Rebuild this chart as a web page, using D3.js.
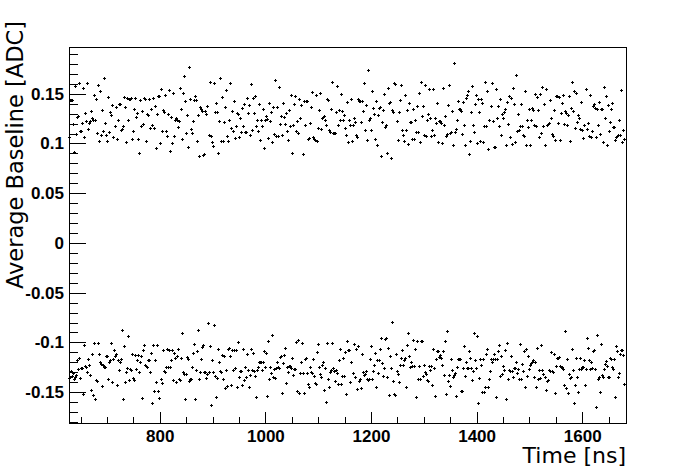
<!DOCTYPE html>
<html>
<head>
<meta charset="utf-8">
<script src="https://cdn.jsdelivr.net/npm/d3@7"></script>
<style>
  body { margin: 0; background: #fff; }
</style>
</head>
<body>
<svg id="chart" width="696" height="472"></svg>
<script>
// axis ticks
var xMajorTicks = [800, 1000, 1200, 1400, 1600];
var yMajorTicks = [-0.15, -0.1, -0.05, 0, 0.05, 0.1, 0.15];

// sampling window of the baseline readings [ns]
var firstTime = 629, lastTime = 1680;

// average baseline, upper band [ADC], in time order
var upperBaseline = [
  0.106,0.143,0.143,0.143,0.119,0.091,0.157,0.109,0.126,0.127,0.160,0.112,0.112,0.120,0.155,0.106,0.130,0.122,0.160,0.114,0.120,0.122,0.132,0.125,0.123,0.148,0.123,0.144,0.110,0.158,0.102,0.152,0.108,0.133,0.112,0.165,0.120,0.108,0.102,0.146,0.111,0.131,0.128,0.138,0.106,0.117,0.136,0.104,0.123,0.139,0.139,0.113,0.114,0.117,0.146,0.136,0.101,0.145,0.123,0.144,0.144,0.145,0.104,0.112,0.134,0.145,0.126,0.130,0.104,0.090,0.143,0.117,0.132,0.119,0.145,0.144,0.102,0.129,0.128,0.144,0.115,0.134,0.118,0.145,0.115,0.137,0.095,0.129,0.147,0.147,0.100,0.154,0.112,0.133,0.131,0.148,0.112,0.107,0.129,0.153,0.092,0.126,0.100,0.150,0.107,0.123,0.125,0.123,0.116,0.122,0.155,0.134,0.104,0.150,0.167,0.142,0.110,0.128,0.096,0.176,0.144,0.114,0.110,0.122,0.143,0.147,0.143,0.102,0.128,0.087,0.136,0.134,0.132,0.088,
  0.089,0.132,0.129,0.137,0.108,0.161,0.107,0.101,0.097,0.160,0.131,0.140,0.131,0.090,0.122,0.165,0.102,0.146,0.102,0.121,0.136,0.153,0.107,0.102,0.123,0.160,0.115,0.132,0.112,0.142,0.105,0.117,0.130,0.129,0.106,0.125,0.111,0.135,0.117,0.139,0.111,0.111,0.145,0.130,0.138,0.108,0.159,0.113,0.145,0.130,0.147,0.117,0.123,0.112,0.139,0.103,0.123,0.117,0.134,0.095,0.123,0.127,0.124,0.105,0.140,0.122,0.131,0.101,0.136,0.109,0.163,0.107,0.136,0.107,0.156,0.119,0.127,0.108,0.140,0.126,0.119,0.130,0.112,0.103,0.133,0.117,0.148,0.090,0.118,0.139,0.147,0.112,0.122,0.110,0.144,0.125,0.138,0.089,0.142,0.118,0.142,0.142,0.104,0.105,0.120,0.136,0.151,0.106,0.104,0.103,0.148,0.102,0.115,0.133,0.150,0.114,0.125,0.126,0.127,0.123,0.118,0.144,0.143,0.113,0.111,0.134,0.161,0.110,0.110,0.110,0.131,0.157,0.118,0.133,0.123,
  0.149,0.132,0.123,0.128,0.115,0.108,0.141,0.101,0.123,0.118,0.144,0.102,0.118,0.125,0.121,0.108,0.106,0.144,0.142,0.142,0.121,0.142,0.132,0.160,0.113,0.138,0.103,0.173,0.123,0.125,0.113,0.152,0.135,0.129,0.104,0.142,0.098,0.128,0.135,0.136,0.087,0.121,0.133,0.149,0.116,0.118,0.090,0.155,0.140,0.141,0.085,0.133,0.131,0.160,0.159,0.122,0.103,0.131,0.143,0.158,0.113,0.108,0.102,0.148,0.113,0.133,0.099,0.140,0.121,0.121,0.104,0.134,0.104,0.123,0.111,0.137,0.111,0.150,0.101,0.161,0.127,0.137,0.108,0.158,0.107,0.123,0.129,0.154,0.125,0.107,0.113,0.154,0.108,0.125,0.120,0.140,0.101,0.122,0.122,0.120,0.100,0.155,0.118,0.127,0.107,0.109,0.138,0.158,0.110,0.111,0.132,0.098,0.180,0.111,0.114,0.123,0.142,0.134,0.134,0.132,0.109,0.141,0.118,0.098,0.145,0.148,0.152,0.089,0.102,0.131,0.157,0.118,0.111,0.139,0.148,0.100,0.144,0.131,0.102,
  0.144,0.140,0.101,0.117,0.161,0.117,0.152,0.094,0.123,0.137,0.160,0.122,0.096,0.096,0.154,0.125,0.137,0.117,0.144,0.108,0.129,0.125,0.131,0.134,0.098,0.141,0.119,0.147,0.106,0.145,0.099,0.155,0.139,0.101,0.168,0.112,0.129,0.113,0.117,0.139,0.117,0.108,0.107,0.152,0.098,0.123,0.116,0.134,0.098,0.123,0.135,0.133,0.118,0.149,0.117,0.146,0.133,0.106,0.149,0.110,0.156,0.117,0.139,0.098,0.154,0.118,0.119,0.120,0.143,0.125,0.109,0.107,0.133,0.103,0.147,0.147,0.120,0.146,0.103,0.130,0.140,0.148,0.119,0.132,0.130,0.118,0.128,0.147,0.102,0.135,0.161,0.132,0.152,0.115,0.150,0.121,0.128,0.125,0.114,0.141,0.113,0.105,0.118,0.154,0.114,0.120,0.107,0.148,0.106,0.112,0.137,0.139,0.135,0.106,0.134,0.118,0.141,0.109,0.134,0.134,0.101,0.156,0.125,0.147,0.098,0.138,0.112,0.121,0.134,0.140,0.116,0.116,0.103,0.106,0.107,0.108,0.123,0.108,0.153,0.101,0.113,0.104
];

// average baseline, lower band [ADC], in time order
var lowerBaseline = [
  -0.136,-0.135,-0.129,-0.134,-0.131,-0.137,-0.135,-0.133,-0.118,-0.127,-0.116,-0.136,-0.126,-0.126,-0.152,-0.103,-0.124,-0.125,-0.130,-0.117,-0.123,-0.133,-0.148,-0.112,-0.153,-0.101,-0.157,-0.138,-0.139,-0.101,-0.112,-0.120,-0.122,-0.144,-0.123,-0.125,-0.125,-0.114,-0.114,-0.137,-0.120,-0.118,-0.101,-0.140,-0.117,-0.108,-0.114,-0.112,-0.143,-0.118,-0.128,-0.120,-0.117,-0.088,-0.157,-0.104,-0.140,-0.130,-0.126,-0.094,-0.138,-0.127,-0.128,-0.112,-0.136,-0.138,-0.113,-0.127,-0.118,-0.113,-0.130,-0.120,-0.114,-0.156,-0.108,-0.103,-0.123,-0.124,-0.125,-0.118,-0.118,-0.130,-0.111,-0.161,-0.103,-0.149,-0.118,-0.140,-0.103,-0.149,-0.156,-0.137,-0.141,-0.108,-0.129,-0.130,-0.125,-0.107,-0.125,-0.108,-0.125,-0.118,-0.108,-0.138,-0.111,-0.116,-0.140,-0.114,-0.107,-0.137,-0.138,-0.116,-0.091,-0.130,-0.132,-0.157,-0.132,-0.115,-0.117,-0.139,-0.137,-0.137,-0.125,-0.111,-0.102,-0.157,-0.128,-0.109,-0.088,-0.137,-0.130,-0.117,-0.105,-0.103,-0.130,
  -0.130,-0.136,-0.132,-0.081,-0.130,-0.104,-0.163,-0.118,-0.130,-0.083,-0.134,-0.155,-0.136,-0.107,-0.120,-0.129,-0.130,-0.113,-0.137,-0.114,-0.146,-0.128,-0.144,-0.107,-0.106,-0.114,-0.143,-0.108,-0.128,-0.108,-0.126,-0.108,-0.145,-0.100,-0.135,-0.129,-0.129,-0.143,-0.107,-0.138,-0.125,-0.135,-0.112,-0.128,-0.145,-0.133,-0.107,-0.128,-0.111,-0.129,-0.134,-0.155,-0.128,-0.125,-0.120,-0.120,-0.120,-0.128,-0.120,-0.109,-0.125,-0.111,-0.154,-0.099,-0.137,-0.125,-0.131,-0.093,-0.135,-0.127,-0.136,-0.126,-0.120,-0.125,-0.126,-0.115,-0.114,-0.151,-0.121,-0.113,-0.106,-0.141,-0.125,-0.130,-0.124,-0.124,-0.126,-0.116,-0.133,-0.127,-0.127,-0.100,-0.149,-0.098,-0.151,-0.131,-0.120,-0.101,-0.131,-0.151,-0.117,-0.116,-0.131,-0.142,-0.145,-0.125,-0.130,-0.131,-0.117,-0.134,-0.141,-0.142,-0.110,-0.102,-0.125,-0.132,-0.135,-0.123,-0.120,-0.148,-0.126,-0.160,-0.101,-0.137,-0.145,-0.130,-0.128,-0.101,-0.126,-0.129,-0.139,-0.128,-0.131,-0.142,-0.118,-0.107,-0.142,-0.134,
  -0.116,-0.134,-0.110,-0.152,-0.099,-0.108,-0.108,-0.140,-0.120,-0.131,-0.102,-0.135,-0.107,-0.147,-0.104,-0.139,-0.137,-0.146,-0.112,-0.130,-0.133,-0.132,-0.129,-0.137,-0.138,-0.137,-0.117,-0.104,-0.137,-0.129,-0.123,-0.111,-0.145,-0.118,-0.131,-0.118,-0.107,-0.096,-0.121,-0.134,-0.126,-0.097,-0.096,-0.135,-0.106,-0.153,-0.114,-0.126,-0.080,-0.139,-0.152,-0.153,-0.112,-0.129,-0.132,-0.140,-0.123,-0.116,-0.108,-0.123,-0.118,-0.116,-0.145,-0.103,-0.091,-0.114,-0.125,-0.120,-0.124,-0.098,-0.124,-0.107,-0.155,-0.099,-0.137,-0.124,-0.137,-0.099,-0.099,-0.134,-0.123,-0.130,-0.132,-0.138,-0.139,-0.124,-0.128,-0.124,-0.143,-0.107,-0.126,-0.154,-0.117,-0.109,-0.109,-0.115,-0.113,-0.116,-0.123,-0.109,-0.133,-0.099,-0.152,-0.089,-0.139,-0.133,-0.144,-0.117,-0.128,-0.135,-0.133,-0.131,-0.154,-0.125,-0.117,-0.117,-0.117,-0.149,-0.149,-0.126,-0.104,-0.134,-0.120,-0.126,-0.126,-0.109,-0.116,-0.126,-0.138,-0.129,-0.091,-0.118,-0.126,-0.094,-0.161,-0.136,-0.117,-0.123,-0.150,
  -0.117,-0.150,-0.145,-0.112,-0.107,-0.145,-0.137,-0.129,-0.117,-0.120,-0.117,-0.112,-0.117,-0.155,-0.117,-0.109,-0.103,-0.134,-0.114,-0.132,-0.124,-0.128,-0.108,-0.157,-0.101,-0.137,-0.128,-0.129,-0.114,-0.129,-0.135,-0.126,-0.126,-0.120,-0.131,-0.127,-0.137,-0.102,-0.137,-0.122,-0.129,-0.109,-0.145,-0.107,-0.134,-0.114,-0.127,-0.123,-0.121,-0.120,-0.118,-0.135,-0.120,-0.145,-0.106,-0.137,-0.128,-0.136,-0.103,-0.128,-0.132,-0.135,-0.148,-0.139,-0.138,-0.128,-0.129,-0.110,-0.129,-0.130,-0.112,-0.151,-0.124,-0.116,-0.116,-0.115,-0.124,-0.125,-0.125,-0.127,-0.143,-0.089,-0.146,-0.117,-0.151,-0.132,-0.136,-0.135,-0.107,-0.128,-0.161,-0.143,-0.116,-0.135,-0.150,-0.127,-0.116,-0.127,-0.125,-0.125,-0.118,-0.143,-0.127,-0.096,-0.106,-0.118,-0.127,-0.120,-0.126,-0.109,-0.108,-0.127,-0.165,-0.093,-0.137,-0.135,-0.150,-0.102,-0.133,-0.135,-0.127,-0.122,-0.119,-0.124,-0.135,-0.135,-0.116,-0.117,-0.125,-0.127,-0.117,-0.155,-0.104,-0.109,-0.135,-0.131,-0.112,-0.108,-0.108,-0.113,-0.142
];

function drawChart() {
  var svg = d3.select("#chart");
  svg.append("rect").attr("width", 696).attr("height", 472).attr("fill", "#fff");

  var plotLeft = 69, plotRight = 626, plotTop = 47, plotBottom = 423;

  var x = d3.scaleLinear().domain([628, 1683]).range([plotLeft, plotRight]);
  var y = d3.scaleLinear().domain([-0.181, 0.197]).range([plotBottom, plotTop]);

  function timesFor(values) {
    var n = values.length;
    return values.map(function(v, i) {
      return { t: firstTime + i * (lastTime - firstTime) / (n - 1), v: v };
    });
  }
  var points = timesFor(upperBaseline).concat(timesFor(lowerBaseline));

  var labelFont = "'Liberation Sans', Arial, Helvetica, sans-serif";
  var titleFont = "'DejaVu Sans', Verdana, sans-serif";

  // minor ticks
  var xMinor = d3.range(650, 1683, 50).filter(function(d) { return xMajorTicks.indexOf(d) < 0; });
  var yMinor = d3.range(-18, 20).map(function(d) { return d / 100; })
    .filter(function(d) { return yMajorTicks.every(function(m) { return Math.abs(m - d) > 1e-6; }); });

  svg.append("g")
      .attr("transform", "translate(0," + plotBottom + ")")
      .call(d3.axisBottom(x).tickValues(xMinor).tickSize(-6).tickFormat(""))
      .call(function(g) { g.select(".domain").remove(); });

  svg.append("g")
      .attr("transform", "translate(" + plotLeft + ",0)")
      .call(d3.axisLeft(y).tickValues(yMinor).tickSize(-9).tickFormat(""))
      .call(function(g) { g.select(".domain").remove(); });

  var xAxis = svg.append("g")
      .attr("transform", "translate(0," + plotBottom + ")")
      .call(d3.axisBottom(x).tickValues(xMajorTicks).tickSize(-11).tickPadding(7).tickFormat(d3.format("d")));
  xAxis.select(".domain").remove();

  var yAxis = svg.append("g")
      .attr("transform", "translate(" + plotLeft + ",0)")
      .call(d3.axisLeft(y).tickValues(yMajorTicks).tickSize(-17).tickPadding(5)
        .tickFormat(function(d) { return String(+d.toFixed(2)); }));
  yAxis.select(".domain").remove();

  svg.selectAll(".tick line").attr("stroke", "#000").attr("shape-rendering", "crispEdges");
  svg.selectAll(".tick text")
      .attr("fill", "#000")
      .style("font-family", labelFont)
      .style("font-size", "17px")
      .style("font-weight", "bold");

  // frame
  svg.append("rect")
      .attr("x", plotLeft + 0.5).attr("y", plotTop + 0.5)
      .attr("width", plotRight - plotLeft).attr("height", plotBottom - plotTop)
      .attr("fill", "none").attr("stroke", "#000")
      .attr("shape-rendering", "crispEdges");

  // markers (+)
  svg.append("g")
    .selectAll("path")
    .data(points)
    .join("path")
      .attr("d", function(d) {
        var cx = Math.floor(x(d.t)), cy = Math.floor(y(d.v));
        return "M" + (cx - 1) + "," + (cy + 0.5) + "h3M" + (cx + 0.5) + "," + (cy - 1) + "v3";
      })
      .attr("fill", "none")
      .attr("stroke", "#000")
      .attr("stroke-width", 1)
      .attr("shape-rendering", "crispEdges");

  // titles
  svg.append("text")
      .attr("x", plotRight).attr("y", 463)
      .attr("text-anchor", "end")
      .style("font-family", titleFont)
      .style("font-size", "22px")
      .text("Time [ns]");

  svg.append("text")
      .attr("transform", "translate(23,21) rotate(-90)")
      .attr("text-anchor", "end")
      .style("font-family", titleFont)
      .style("font-size", "22.5px")
      .text("Average Baseline [ADC]");
}

drawChart();
</script>
</body>
</html>
